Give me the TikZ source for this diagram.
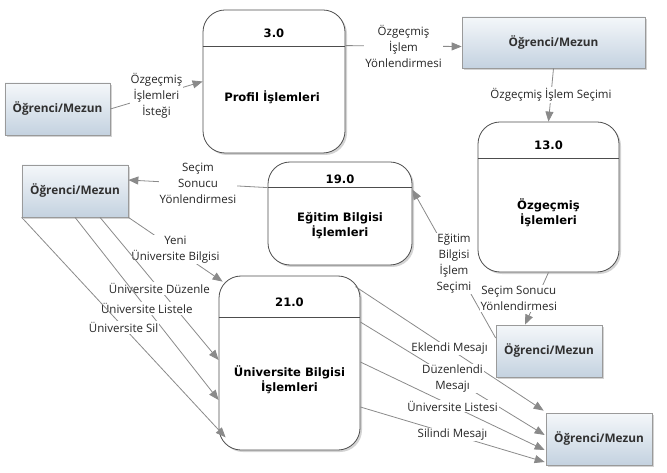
\documentclass[tikz,border=0pt]{standalone}
\usepackage{fontspec}
\setmainfont{Open Sans}
\newfontfamily\procfont{DejaVu Sans}
\usetikzlibrary{calc,shadows,arrows.meta}
\definecolor{lineC}{HTML}{8A8A8A}
\definecolor{txtC}{HTML}{262626}
\definecolor{entTxt}{HTML}{303030}
\definecolor{entTop}{HTML}{F4F7FA}
\definecolor{entBot}{HTML}{C4D2E0}
\definecolor{entBorder}{HTML}{9A9A9A}
\definecolor{procBorder}{HTML}{4D4D4D}
\begin{document}
\begin{tikzpicture}[x=1bp,y=-1bp,
  entity/.style={draw=entBorder, line width=0.7bp, top color=entTop, bottom color=entBot,
    drop shadow={shadow xshift=2bp,shadow yshift=-2bp,opacity=0.35},
    font=\fontsize{11.8bp}{14bp}\selectfont\bfseries, text=entTxt, inner sep=0pt,
    minimum width=106bp, minimum height=52bp},
  procbox/.style={draw=procBorder, line width=0.8bp, fill=white, rounded corners=22bp,
    drop shadow={shadow xshift=2bp,shadow yshift=-2bp,opacity=0.35}, inner sep=0pt},
  divider/.style={draw=procBorder, line width=0.6bp},
  ptext/.style={font=\procfont\fontsize{11.6bp}{15bp}\selectfont\bfseries, text=black, align=center},
  lbl/.style={font=\fontsize{11.5bp}{16bp}\selectfont, text=txtC, align=center, fill=white, inner sep=1bp},
  flow/.style={draw=lineC, line width=0.8bp, -{Triangle[length=10bp,width=8bp]}}
]
\useasboundingbox (0,0) rectangle (667,473);

% processes
\node[procbox, minimum width=142bp, minimum height=143bp] (p3) at (274,81.5) {};
\draw[divider] ($(p3.north west)+(0,37)$) -- ($(p3.north east)+(0,37)$);
\node[ptext] (p3t) at (274,33) {3.0};
\node[ptext] (p3b) at (272,97) {Profil İşlemleri};

\node[procbox, minimum width=141bp, minimum height=150bp] (p13) at (548.5,197) {};
\draw[divider] ($(p13.north west)+(0,37)$) -- ($(p13.north east)+(0,37)$);
\node[ptext] (p13t) at (548.5,145) {13.0};
\node[ptext] (p13b) at (548.5,212.5) {Özgeçmiş\\İşlemleri};

\node[procbox, minimum width=144bp, minimum height=103bp] (p19) at (340,213.5) {};
\draw[divider] ($(p19.north west)+(0,26)$) -- ($(p19.north east)+(0,26)$);
\node[ptext] (p19t) at (340,179) {19.0};
\node[ptext] (p19b) at (340,226) {Eğitim Bilgisi\\İşlemleri};

\node[procbox, minimum width=141bp, minimum height=174bp] (p21) at (289.5,363) {};
\draw[divider] ($(p21.north west)+(0,42)$) -- ($(p21.north east)+(0,42)$);
\node[ptext] (p21t) at (289.5,302) {21.0};
\node[ptext] (p21b) at (289.5,380) {Üniversite Bilgisi\\İşlemleri};

% entities
\node[entity, minimum width=105bp] (e1) at (57.5,109) {Öğrenci/Mezun};
\node[entity, minimum width=183bp, minimum height=51bp] (e2) at (553.5,42.5) {Öğrenci/Mezun};
\node[entity] (e3) at (75,191) {Öğrenci/Mezun};
\node[entity] (e4) at (549,351) {Öğrenci/Mezun};
\node[entity] (e5) at (599,439) {Öğrenci/Mezun};

% flows
\draw[flow] (e1.east) -- node[lbl]{Özgeçmiş\\İşlemleri\\İsteği} (p3.west);
\draw[flow] ($(p3.north east)+(0,36)$) -- node[lbl]{Özgeçmiş\\İşlem\\Yönlendirmesi} ($(e2.west)+(0,4)$);
\draw[flow] (e2.south) -- node[lbl]{Özgeçmiş İşlem Seçimi} (p13.north);
\draw[flow] ($(p19.north west)+(0,26)$) -- node[lbl]{Seçim\\Sonucu\\Yönlendirmesi} ($(e3.east)+(0,-11)$);
\draw[flow] ($(e4.west)+(0,-13)$) -- node[lbl]{Eğitim\\Bilgisi\\İşlem\\Seçimi} ($(p19.north east)+(0,28)$);
\draw[flow] (p13.south) -- node[lbl, xshift=-18bp]{Seçim Sonucu\\Yönlendirmesi} ($(e4.north)+(-24,0)$);

\draw[flow] (e3.south east) -- node[lbl]{Yeni\\Üniversite Bilgisi} ($(p21.north west)+(4,6)$);
\draw[flow] ($(e3.south)+(25,0)$) -- node[lbl]{Üniversite Düzenle} ($(p21.west)+(0,-3)$);
\draw[flow] (e3.south) -- node[lbl]{Üniversite Listele} ($(p21.west)+(0,37)$);
\draw[flow] (e3.south west) -- node[lbl]{Üniversite Sil} ($(p21.south west)+(7,-13)$);

\draw[flow] ($(p21.north east)+(-5,11)$) -- node[lbl]{Eklendi Mesajı} ($(e5.north west)+(-2,-2)$);
\draw[flow] ($(p21.east)+(0,-41)$) -- node[lbl]{Düzenlendi\\Mesajı} ($(e5.west)+(-1,-4)$);
\draw[flow] ($(p21.east)+(0,-1)$) -- node[lbl]{Üniversite Listesi} ($(e5.west)+(-1,11)$);
\draw[flow] ($(p21.east)+(0,44)$) -- node[lbl]{Silindi Mesajı} ($(e5.west)+(-1,23)$);
\end{tikzpicture}
\end{document}
